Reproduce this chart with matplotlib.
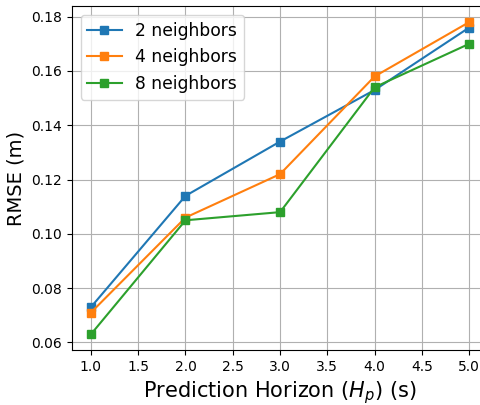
import matplotlib
matplotlib.use("Agg")
import matplotlib.pyplot as plt

horizon = [1.0, 2.0, 3.0, 4.0, 5.0]
rmse_2 = [0.073, 0.114, 0.134, 0.153, 0.176]
rmse_4 = [0.071, 0.106, 0.122, 0.158, 0.178]
rmse_8 = [0.063, 0.105, 0.108, 0.154, 0.170]
labels = ['2 neighbors', '4 neighbors', '8 neighbors']

fig = plt.figure(figsize=(4.8, 4.05), dpi=100)
# axes run a bit past the right edge, as in the reference crop
ax = fig.add_axes([0.15, 0.136, 0.867, 0.848])

for ys, lab in zip([rmse_2, rmse_4, rmse_8], labels):
    ax.plot(horizon, ys, marker='s', label=lab)

ax.set_xticks([1.0, 1.5, 2.0, 2.5, 3.0, 3.5, 4.0, 4.5, 5.0])
ax.grid(True)
ax.set_xlabel('Prediction Horizon ($H_p$) (s)', fontsize=15)
ax.set_ylabel('RMSE (m)', fontsize=14)
ax.legend(fontsize=12.3, loc='upper left')

fig.savefig('out.png', dpi=100)
